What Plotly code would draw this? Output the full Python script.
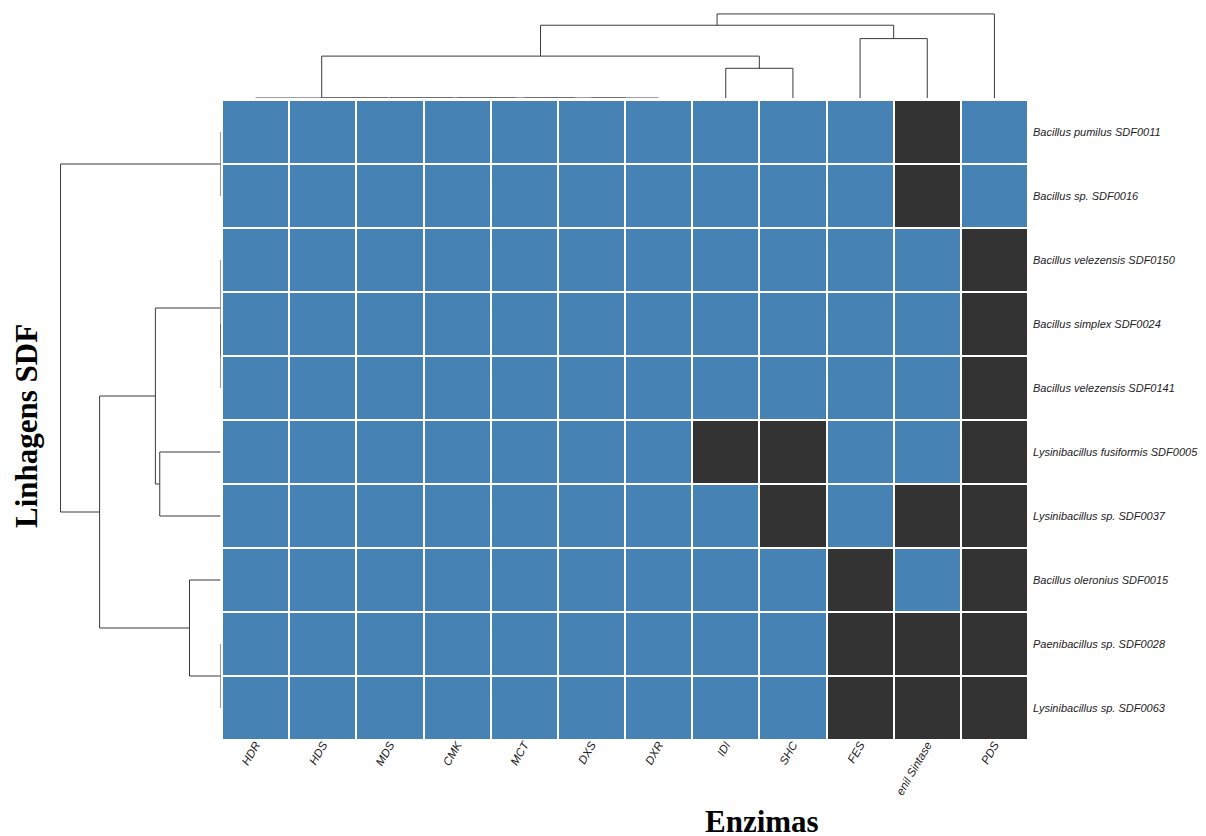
import plotly.graph_objects as go

# The page body adds an 8px margin, so the figure is drawn 8px in from the window corner.
OFF = 8
W, H = 1206 - OFF, 836 - OFF

# ---- data ----
enzymes = ["HDR", "HDS", "MDS", "CMK", "MCT", "DXS", "DXR", "IDI", "SHC", "FES", "enil Sintase", "PDS"]
strains = [
    "Bacillus pumilus SDF0011",
    "Bacillus sp. SDF0016",
    "Bacillus velezensis SDF0150",
    "Bacillus simplex SDF0024",
    "Bacillus velezensis SDF0141",
    "Lysinibacillus fusiformis SDF0005",
    "Lysinibacillus sp. SDF0037",
    "Bacillus oleronius SDF0015",
    "Paenibacillus sp. SDF0028",
    "Lysinibacillus sp. SDF0063",
]
# 0 = present (blue), 1 = absent (dark)
presence = [
    [0, 0, 0, 0, 0, 0, 0, 0, 0, 0, 1, 0],
    [0, 0, 0, 0, 0, 0, 0, 0, 0, 0, 1, 0],
    [0, 0, 0, 0, 0, 0, 0, 0, 0, 0, 0, 1],
    [0, 0, 0, 0, 0, 0, 0, 0, 0, 0, 0, 1],
    [0, 0, 0, 0, 0, 0, 0, 0, 0, 0, 0, 1],
    [0, 0, 0, 0, 0, 0, 0, 1, 1, 0, 0, 1],
    [0, 0, 0, 0, 0, 0, 0, 0, 1, 0, 1, 1],
    [0, 0, 0, 0, 0, 0, 0, 0, 0, 1, 0, 1],
    [0, 0, 0, 0, 0, 0, 0, 0, 0, 1, 1, 1],
    [0, 0, 0, 0, 0, 0, 0, 0, 0, 1, 1, 1],
]

# hclust-style merges (negative = leaf, 1-based; positive = earlier merge, 1-based)
col_merge_a = [-6, -5, -4, -3, -2, -1, -8, 6, -10, 8, 10]
col_merge_b = [-7, 1, 2, 3, 4, 5, -9, 7, -11, 9, -12]
col_heights = [0, 0, 0, 0, 0, 0, 1.0, 1.41, 2.0, 2.45, 2.83]

row_merge_a = [-1, -4, -3, -6, -9, -8, 3, 7, 1]
row_merge_b = [-2, -5, 2, -7, -10, 5, 4, 6, 8]
row_heights = [0, 0, 0, 1.96, 0, 1.0, 2.1, 3.9, 5.16]

BLUE = "#4682B4"
DARK = "#333333"
LINE = "#3a3a3a"


def dendro_segments(ma, mb, hs):
    pos, hgt = {}, {}

    def get(c):
        if c < 0:
            return -c - 1, 0.0
        return pos[c], hgt[c]

    P, Hh = [], []
    for k, (a, b, h) in enumerate(zip(ma, mb, hs), start=1):
        pa, ha = get(a)
        pb, hb = get(b)
        P += [pa, pa, pb, pb, None]
        Hh += [ha, h, h, hb, None]
        pos[k] = (pa + pb) / 2
        hgt[k] = h
    return P, Hh


# page-pixel geometry helpers
hx0, hx1 = 222, 1028
hy0, hy1 = 100, 740


def px(x):
    return (x - OFF) / W


def py(y):
    return 1 - (y - OFF) / H


fig = go.Figure()

fig.add_trace(go.Heatmap(
    z=presence, x=list(range(len(enzymes))), y=list(range(len(strains))),
    colorscale=[[0, BLUE], [1, DARK]], zmin=0, zmax=1, showscale=False,
    xgap=2, ygap=2, xaxis="x", yaxis="y", hoverinfo="skip",
))

cp, ch = dendro_segments(col_merge_a, col_merge_b, col_heights)
fig.add_trace(go.Scatter(x=cp, y=ch, mode="lines", line=dict(color=LINE, width=1),
                         xaxis="x2", yaxis="y2", hoverinfo="skip", showlegend=False))

rp, rh = dendro_segments(row_merge_a, row_merge_b, row_heights)
fig.add_trace(go.Scatter(x=rh, y=rp, mode="lines", line=dict(color=LINE, width=1),
                         xaxis="x3", yaxis="y3", hoverinfo="skip", showlegend=False))

col_unit = 29.7
row_unit = 31.0

noax = dict(showgrid=False, zeroline=False, showline=False, showticklabels=False, ticks="")

fig.update_layout(
    width=W, height=H,
    margin=dict(l=0, r=0, t=0, b=0),
    paper_bgcolor="white", plot_bgcolor="white",
    showlegend=False,
    xaxis=dict(domain=[px(hx0), px(hx1)], range=[-0.5, 11.5], tickvals=list(range(12)),
               ticktext=enzymes, tickangle=-60, showgrid=False, zeroline=False, showline=False,
               ticks="", ticklabelstandoff=-5,
               tickfont=dict(family="Liberation Sans", size=11.5, color="#222", style="italic"),
               anchor="y", automargin=False),
    yaxis=dict(domain=[py(hy1), py(hy0)], range=[9.5, -0.5], tickvals=list(range(10)),
               ticktext=strains, side="right", showgrid=False, zeroline=False, showline=False,
               ticks="", ticklabelstandoff=4,
               tickfont=dict(family="Liberation Sans", size=11, color="#222", style="italic"),
               anchor="x", automargin=False),
    xaxis2=dict(domain=[px(hx0), px(hx1)], range=[-0.5, 11.5], anchor="y2", **noax),
    yaxis2=dict(domain=[py(98), 1.0], range=[0, (98 - OFF) / col_unit], anchor="x2", **noax),
    xaxis3=dict(domain=[0, px(220.5)], range=[(220.5 - OFF) / row_unit, 0], anchor="y3", **noax),
    yaxis3=dict(domain=[py(hy1), py(hy0)], range=[9.5, -0.5], anchor="x3", **noax),
    annotations=[
        dict(text="<b>Enzimas</b>", x=px(762), y=py(821), xref="paper", yref="paper",
             showarrow=False, xanchor="center", yanchor="middle",
             font=dict(family="Liberation Serif", size=31, color="black")),
        dict(text="<b>Linhagens SDF</b>", x=px(26), y=py(426), xref="paper", yref="paper",
             showarrow=False, xanchor="center", yanchor="middle", textangle=-90,
             font=dict(family="Liberation Serif", size=31, color="black")),
    ],
)

fig.write_html("out.html")
